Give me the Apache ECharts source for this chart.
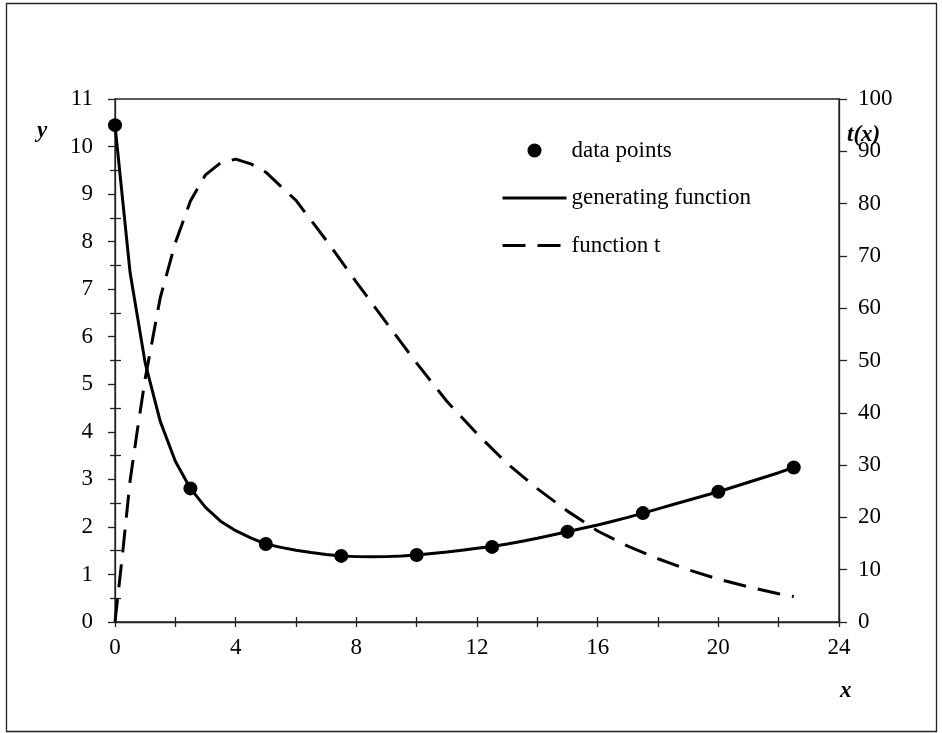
<!DOCTYPE html>
<html>
<head>
<meta charset="utf-8">
<script src="https://cdn.jsdelivr.net/npm/echarts@6/dist/echarts.min.js"></script>
<style>
  html, body { margin: 0; padding: 0; background: #fff; }
  #chart { width: 942px; height: 733px; }
</style>
</head>
<body>
<div id="chart"></div>
<script>
// Measured data points (x, y)
const pointX = [0, 2.5, 5, 7.5, 10, 12.5, 15, 17.5, 20, 22.5];
const pointY = [10.45, 2.81, 1.64, 1.39, 1.41, 1.58, 1.90, 2.29, 2.74, 3.25];

// Generating function sampled every 0.5
const genX = [0, 0.5, 1, 1.5, 2, 2.5, 3, 3.5, 4, 4.5, 5, 5.5, 6, 6.5, 7, 7.5, 8, 8.5, 9, 9.5,
  10, 10.5, 11, 11.5, 12, 12.5, 13, 13.5, 14, 14.5, 15, 15.5, 16, 16.5, 17, 17.5, 18, 18.5,
  19, 19.5, 20, 20.5, 21, 21.5, 22, 22.5];
const genY = [10.45, 7.35, 5.45, 4.22, 3.38, 2.81, 2.41, 2.12, 1.92, 1.77, 1.64, 1.57, 1.51,
  1.46, 1.42, 1.39, 1.375, 1.37, 1.375, 1.39, 1.41, 1.44, 1.47, 1.51, 1.55, 1.59, 1.64, 1.70,
  1.76, 1.83, 1.90, 1.97, 2.04, 2.12, 2.20, 2.29, 2.38, 2.47, 2.56, 2.65, 2.74, 2.84, 2.94,
  3.04, 3.14, 3.25];

// Function t on the right-hand axis
const tX = [0, 0.25, 0.5, 0.75, 1, 1.5, 2, 2.5, 3, 3.5, 4, 4.5, 5, 6, 7, 8, 9, 10, 11, 12,
  13, 14, 15, 16, 17, 18, 19, 20, 21, 22, 22.5];
const tY = [0, 13, 27, 37, 46.5, 62, 72.5, 80.5, 85.5, 87.8, 88.5, 87.6, 86, 80.6, 73, 65,
  57.2, 49.5, 42.2, 36, 30.3, 25.5, 21.2, 17.4, 14.5, 12.1, 10, 8.2, 6.7, 5.4, 4.85];

// Axis ticks
const xLabelValues = [0, 4, 8, 12, 16, 20, 24];
const xTickValues = [0, 2, 4, 6, 8, 10, 12, 14, 16, 18, 20, 22, 24];
const yMinorValues = [0.5, 1.5, 2.5, 3.5, 4.5, 5.5, 6.5, 7.5, 8.5, 9.5, 10.5];

const seriesNames = ['data points', 'generating function', 'function t'];

const zip = (xs, ys) => xs.map((v, i) => [v, ys[i]]);

const FONT = 'Liberation Serif';
const FS = 23;
const labelStyle = { color: '#000', fontFamily: FONT, fontSize: FS };
const axisLineStyle = { color: '#222', width: 1.3 };

const chart = echarts.init(document.getElementById('chart'), null, { renderer: 'canvas' });

chart.setOption({
  animation: false,
  backgroundColor: '#fff',
  grid: {
    left: 115, right: 103, top: 99, bottom: 111,
    show: true, borderColor: '#222', borderWidth: 1.3, backgroundColor: 'transparent'
  },
  legend: {
    data: [
      { name: seriesNames[0] },
      { name: seriesNames[1], itemStyle: { opacity: 0 }, lineStyle: { width: 3, color: '#000' } },
      { name: seriesNames[2], itemStyle: { opacity: 0 }, lineStyle: { width: 3, color: '#000', type: [23, 12] } }
    ],
    orient: 'vertical',
    left: 496,
    top: 134,
    itemWidth: 64,
    itemHeight: 14,
    itemGap: 24.5,
    textStyle: { color: '#000', fontFamily: FONT, fontSize: FS }
  },
  xAxis: [
    {
      type: 'value', min: 0, max: 24, interval: 2, position: 'bottom',
      axisLine: { show: true, onZero: false, lineStyle: axisLineStyle },
      axisTick: { show: true, inside: false, length: 5, lineStyle: axisLineStyle },
      axisLabel: { ...labelStyle, margin: 14, customValues: xLabelValues },
      splitLine: { show: false }
    },
    {
      // inner half of the crossing ticks
      type: 'value', min: 0, max: 24, position: 'bottom',
      axisLine: { show: false },
      axisTick: { show: true, inside: true, length: 5, lineStyle: axisLineStyle, customValues: xTickValues },
      axisLabel: { show: false },
      splitLine: { show: false }
    }
  ],
  yAxis: [
    {
      type: 'value', min: 0, max: 11, interval: 1, position: 'left',
      axisLine: { show: true, onZero: false, lineStyle: axisLineStyle },
      axisTick: { show: true, inside: false, length: 7, lineStyle: axisLineStyle },
      minorTick: { show: true, splitNumber: 2, length: 5, lineStyle: axisLineStyle },
      axisLabel: { ...labelStyle, margin: 22 },
      splitLine: { show: false }
    },
    {
      type: 'value', min: 0, max: 100, interval: 10, position: 'right',
      axisLine: { show: true, onZero: false, lineStyle: axisLineStyle },
      axisTick: { show: true, inside: false, length: 8, lineStyle: axisLineStyle },
      axisLabel: { ...labelStyle, margin: 19 },
      splitLine: { show: false }
    },
    {
      // inner half of the crossing minor ticks on the left axis
      type: 'value', min: 0, max: 11, position: 'left',
      axisLine: { show: false },
      axisTick: { show: true, inside: true, length: 6, lineStyle: axisLineStyle, customValues: yMinorValues },
      axisLabel: { show: false },
      splitLine: { show: false }
    }
  ],
  series: [
    {
      name: seriesNames[1],
      type: 'line',
      xAxisIndex: 0, yAxisIndex: 0,
      data: zip(genX, genY),
      symbol: 'none',
      smooth: false,
      lineStyle: { color: '#000', width: 3 },
      itemStyle: { color: '#000' },
      z: 3
    },
    {
      name: seriesNames[2],
      type: 'line',
      xAxisIndex: 0, yAxisIndex: 1,
      data: zip(tX, tY),
      symbol: 'none',
      smooth: false,
      lineStyle: { color: '#000', width: 3, type: [23, 12] },
      itemStyle: { color: '#000' },
      z: 3
    },
    {
      name: seriesNames[0],
      type: 'scatter',
      xAxisIndex: 0, yAxisIndex: 0,
      data: zip(pointX, pointY),
      symbol: 'circle',
      symbolSize: 14,
      itemStyle: { color: '#000', opacity: 1 },
      z: 4
    }
  ],
  graphic: [
    {
      type: 'rect',
      shape: { x: 6.5, y: 3.5, width: 930, height: 728 },
      style: { fill: 'none', stroke: '#222', lineWidth: 1.3 },
      silent: true, z: -10
    },
    {
      type: 'text', left: 37, top: 120,
      style: { text: 'y', fill: '#000', font: 'italic bold 23px "Liberation Serif"' }
    },
    {
      type: 'text', left: 847, top: 124,
      style: { text: 't(x)', fill: '#000', font: 'italic bold 23px "Liberation Serif"' }
    },
    {
      type: 'text', left: 840, top: 680,
      style: { text: 'x', fill: '#000', font: 'italic bold 23px "Liberation Serif"' }
    }
  ]
});
</script>
</body>
</html>
